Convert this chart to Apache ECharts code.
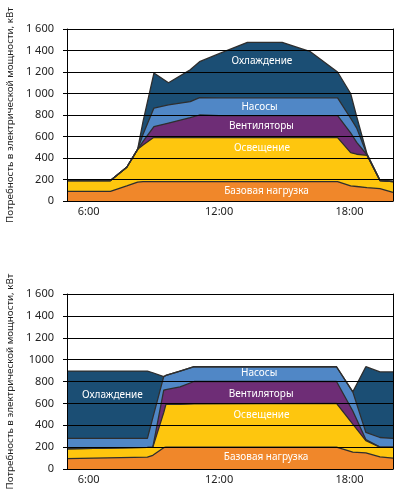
<!DOCTYPE html>
<html>
<head>
<meta charset="utf-8">
<script src="https://cdn.jsdelivr.net/npm/echarts@6/dist/echarts.min.js"></script>
<style>
  html, body { margin: 0; padding: 0; background: #fff; }
  #chart { width: 399px; height: 490px; }
</style>
</head>
<body>
<div id="chart"></div>
<script>
// layers from bottom to top
const layerNames = ['Базовая нагрузка', 'Освещение', 'Вентиляторы', 'Насосы', 'Охлаждение'];

// upper chart
const topHours    = [5, 7, 7.75, 8.25, 8.5, 9, 9.67, 10.67, 11.1, 12, 13.3, 14.9, 16.2, 17.45, 18.05, 18.33, 18.8, 19.4, 20];
const topBase     = [90, 90, 140, 175, 180, 180, 180, 180, 180, 180, 180, 180, 180, 180, 140, 135, 125, 115, 80];
const topLight    = [100, 100, 174, 306, 341, 413, 410, 410, 410, 410, 410, 410, 410, 410, 310, 300, 300, 75, 100];
const topFans     = [0, 0, 0, 0, 34, 98, 135, 185, 210, 205, 205, 205, 205, 205, 183, 110, 5, 0, 0];
const topPumps    = [0, 0, 0, 0, 65, 174, 170, 149, 162, 165, 165, 165, 165, 165, 137, 133, 5, 0, 0];
const topCooling  = [0, 0, 0, 0, 120, 325, 205, 296, 334, 410, 516, 516, 429, 240, 230, 106, 5, 5, 5];

// lower chart
const botHours    = [5, 8.7, 8.95, 9.45, 9.55, 10.2, 10.85, 17.4, 18.15, 18.75, 19.4, 20];
const botBase     = [95, 108, 125, 195, 200, 200, 200, 200, 155, 147, 110, 100];
const botLight    = [90, 90, 75, 320, 390, 390, 395, 400, 255, 113, 90, 100];
const botFans     = [0, 0, 0, 205, 135, 160, 205, 200, 120, 10, 0, 0];
const botPumps    = [95, 82, 270, 125, 130, 145, 135, 135, 175, 65, 88, 80];
const botCooling  = [615, 615, 410, 0, 0, 0, 0, 0, 0, 600, 600, 608];

const xTickHours = [6, 12, 18];
const yTicksTop = ['0', '200', '400', '600', '800', '1 000', '1 200', '1 400', '1 600'];
const yTicksBottom = ['0', '200', '400', '600', '800', '1000', '1 200', '1 400', '1 600'];
const yTitle = 'Потребность в электрической мощности, кВт';

// where the layer names sit, [hour, kW]
const topLabelAt = [[14.18, 96], [13.97, 493], [13.95, 697], [13.86, 877], [13.97, 1302]];
const botLabelAt = [[14.16, 110], [13.95, 492], [13.93, 684], [13.84, 874], [7.09, 675]];

const layerColors = ['#f0872a', '#fec60e', '#6e2d76', '#5087c6', '#1b4e74'];
const fontFamily = '"Noto Sans", sans-serif';

const chart = echarts.init(document.getElementById('chart'));

function cumulate(layers) {
  const out = [];
  let run = layers[0].map(() => 0);
  layers.forEach(l => {
    run = run.map((v, i) => v + l[i]);
    out.push(run);
  });
  return out;
}

function buildSeries(g, hours, layers, labelAt) {
  const cum = cumulate(layers);
  const list = [];
  // draw top layer first so lower layers cover it
  for (let i = cum.length - 1; i >= 0; i--) {
    list.push({
      type: 'line',
      name: layerNames[i],
      xAxisIndex: g,
      yAxisIndex: g * 2,
      data: hours.map((h, k) => [h, cum[i][k]]),
      symbol: 'none',
      silent: true,
      z: 2,
      lineStyle: { color: '#2e2e2e', width: 1.3 },
      areaStyle: { color: layerColors[i], opacity: 1 },
      markPoint: {
        symbol: 'circle',
        symbolSize: 0,
        silent: true,
        data: [{ coord: labelAt[i] }],
        label: {
          show: true,
          position: 'inside',
          formatter: layerNames[i],
          color: '#fff',
          fontSize: 10,
          fontFamily: fontFamily
        }
      }
    });
  }
  return list;
}

function xAxisFor(g) {
  return {
    type: 'value',
    gridIndex: g,
    min: 5,
    max: 20,
    z: 3,
    axisLine: { lineStyle: { color: '#000', width: 1 } },
    axisTick: { show: false },
    splitLine: { show: false },
    axisLabel: {
      customValues: xTickHours,
      formatter: v => v + ':00',
      color: '#222',
      fontSize: 11,
      fontFamily: fontFamily,
      margin: 5
    }
  };
}

function yAxesFor(g, ticks) {
  return [
    {
      type: 'value',
      gridIndex: g,
      min: 0,
      max: 1600,
      interval: 200,
      z: 3,
      name: yTitle,
      nameLocation: 'middle',
      nameGap: 46,
      nameTextStyle: { color: '#222', fontSize: 9.8, fontFamily: fontFamily },
      axisLine: { show: true, lineStyle: { color: '#000', width: 1 } },
      axisTick: { show: true, length: 4, lineStyle: { color: '#000' } },
      splitLine: { show: true, lineStyle: { color: '#000', width: 1 } },
      axisLabel: {
        formatter: v => ticks[Math.round(v / 200)],
        color: '#222',
        fontSize: 11,
        fontFamily: fontFamily,
        margin: 13
      }
    },
    {
      type: 'value',
      gridIndex: g,
      position: 'right',
      min: 0,
      max: 1600,
      z: 3,
      axisLine: { show: true, lineStyle: { color: '#000', width: 1 } },
      axisTick: { show: false },
      axisLabel: { show: false },
      splitLine: { show: false }
    }
  ];
}

const option = {
  animation: false,
  backgroundColor: '#fff',
  grid: [
    { left: 67, top: 29, width: 326, height: 172, containLabel: false, outerBoundsMode: 'none' },
    { left: 67, top: 294, width: 326, height: 175, containLabel: false, outerBoundsMode: 'none' }
  ],
  xAxis: [xAxisFor(0), xAxisFor(1)],
  yAxis: [...yAxesFor(0, yTicksTop), ...yAxesFor(1, yTicksBottom)],
  series: [
    ...buildSeries(0, topHours, [topBase, topLight, topFans, topPumps, topCooling], topLabelAt),
    ...buildSeries(1, botHours, [botBase, botLight, botFans, botPumps, botCooling], botLabelAt)
  ]
};

chart.setOption(option);
</script>
</body>
</html>
